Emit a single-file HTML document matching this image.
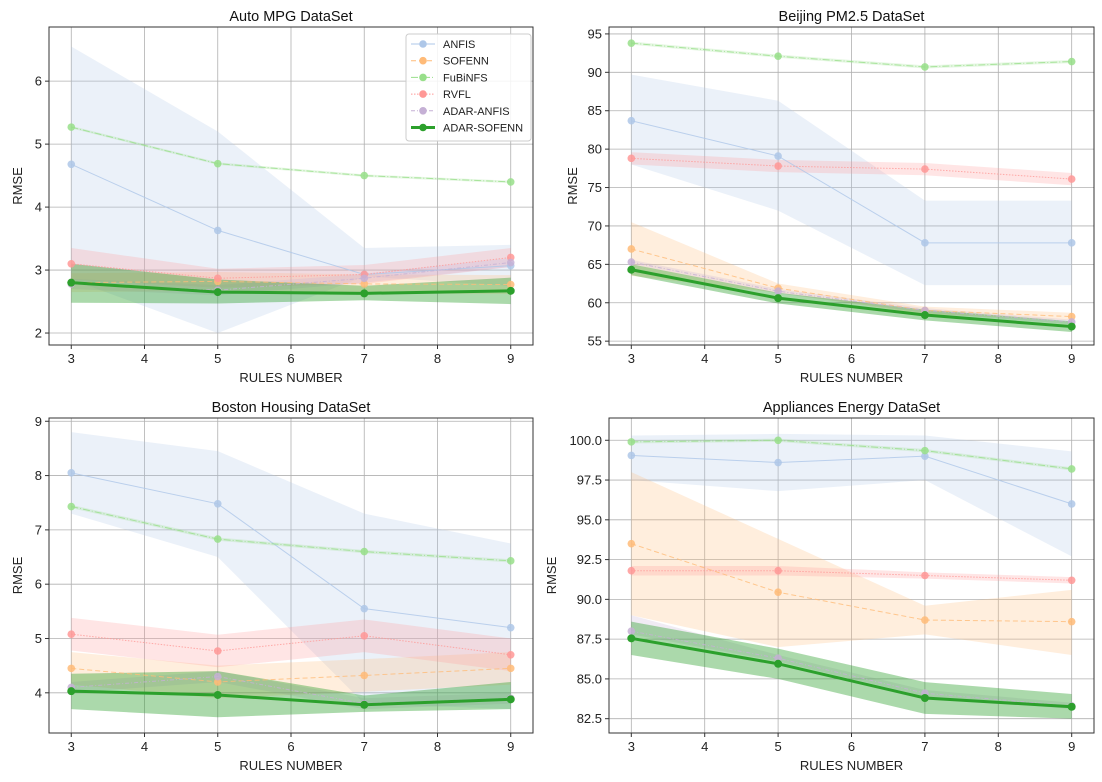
<!DOCTYPE html>
<html><head><meta charset="utf-8"><style>
body{margin:0;background:#fff;}
svg{display:block;font-family:"Liberation Sans","DejaVu Sans",sans-serif;}
</style></head><body>
<svg id="fig" width="1102" height="782" xmlns="http://www.w3.org/2000/svg"></svg>
<script>
const rules = [3,5,7,9];
const seriesNames = ["ANFIS","SOFENN","FuBiNFS","RVFL","ADAR-ANFIS","ADAR-SOFENN"];
// Auto MPG
const mpgMean = [[4.68,3.63,2.93,3.07],[2.8,2.82,2.78,2.77],[5.27,4.69,4.5,4.4],[3.1,2.87,2.93,3.2],[2.78,2.68,2.87,3.12],[2.8,2.65,2.63,2.67]];
const mpgLo = [[2.85,2.0,2.9,2.75],[2.65,2.67,2.63,2.62],[5.25,4.67,4.48,4.38],[2.85,2.72,2.78,3.05],[2.7,2.6,2.8,3.05],[2.48,2.47,2.52,2.46]];
const mpgHi = [[6.55,5.2,3.35,3.4],[2.95,2.97,2.93,2.92],[5.29,4.71,4.52,4.42],[3.35,3.02,3.08,3.35],[2.86,2.76,2.94,3.19],[3.1,2.85,2.75,2.88]];
// Beijing PM2.5
const pmMean = [[83.7,79.1,67.8,67.8],[67,61.9,59,58.2],[93.8,92.1,90.7,91.4],[78.8,77.8,77.4,76.1],[65.3,61.5,59,57.5],[64.3,60.6,58.4,56.9]];
const pmLo = [[78,72,62.3,62.3],[63.5,61.3,58.5,57.7],[93.6,91.9,90.5,91.2],[78,77,76.6,75.3],[65,61.2,58.7,57.2],[63.6,59.9,57.7,56.2]];
const pmHi = [[89.7,86.3,73.3,73.3],[70.5,62.5,59.5,58.7],[94,92.3,90.9,91.6],[79.6,78.6,78.2,76.9],[65.6,61.8,59.3,57.8],[65,61.3,59.1,57.6]];
// Boston Housing
const bhMean = [[8.05,7.48,5.55,5.2],[4.45,4.2,4.32,4.45],[7.43,6.83,6.6,6.43],[5.08,4.77,5.05,4.7],[4.1,4.3,3.8,3.9],[4.03,3.96,3.78,3.88]];
const bhLo = [[7.3,6.5,3.8,3.7],[4.15,3.9,4.02,4.15],[7.4,6.8,6.57,6.4],[4.78,4.47,4.75,4.4],[4.0,4.2,3.7,3.8],[3.7,3.55,3.65,3.7]];
const bhHi = [[8.8,8.45,7.3,6.75],[4.75,4.5,4.62,4.75],[7.46,6.86,6.63,6.46],[5.38,5.07,5.35,5.0],[4.2,4.4,3.9,4.0],[4.35,4.4,3.95,4.2]];
// Appliances Energy
const aeMean = [[99.05,98.6,99.0,96.0],[93.5,90.45,88.7,88.6],[99.9,100.0,99.35,98.2],[91.8,91.8,91.5,91.2],[88.0,86.3,84.1,83.3],[87.55,85.95,83.8,83.25]];
const aeLo = [[97.5,96.8,97.5,92.7],[89,87.0,87.8,86.5],[99.8,99.9,99.25,98.1],[91.5,91.5,91.3,91.0],[87.8,86.1,83.9,83.1],[86.5,85.0,82.8,82.5]];
const aeHi = [[100.3,100.4,100.3,99.3],[98,93.8,89.6,90.6],[100.0,100.1,99.45,98.3],[92.1,92.1,91.7,91.4],[89.0,86.5,84.3,83.5],[88.6,86.9,84.8,84.05]];
const mpgTicks=[2,3,4,5,6], pmTicks=[55,60,65,70,75,80,85,90,95], bhTicks=[4,5,6,7,8,9], aeTicks=[82.5,85,87.5,90,92.5,95,97.5,100];
const xTicks=[3,4,5,6,7,8,9];

const colors=["#aec7e8","#ffbb78","#98df8a","#ff9896","#c5b0d5","#2ca02c"];
const dashes=["","5,3","7,2,1,2","1.5,1.5","4,2,1,2",""];
const NS="http://www.w3.org/2000/svg";
const svg=document.getElementById('fig');
function mk(tag,attrs,parent){const e=document.createElementNS(NS,tag);for(const k in attrs)e.setAttribute(k,attrs[k]);(parent||svg).appendChild(e);return e;}

const panels=[
 {title:"Auto MPG DataSet",key:"mpg",L:49,R:533,T:27,B:345,ymin:1.81,ymax:6.86,mean:mpgMean,lo:mpgLo,hi:mpgHi,ticks:mpgTicks,fmt:v=>String(v),legend:true,yl:22},
 {title:"Beijing PM2.5 DataSet",key:"pm",L:609,R:1094,T:27,B:345,ymin:54.5,ymax:95.9,mean:pmMean,lo:pmLo,hi:pmHi,ticks:pmTicks,fmt:v=>String(v),yl:577},
 {title:"Boston Housing DataSet",key:"bh",L:49,R:533,T:418,B:733,ymin:3.26,ymax:9.06,mean:bhMean,lo:bhLo,hi:bhHi,ticks:bhTicks,fmt:v=>String(v),yl:22},
 {title:"Appliances Energy DataSet",key:"ae",L:609,R:1094,T:418,B:733,ymin:81.6,ymax:101.4,mean:aeMean,lo:aeLo,hi:aeHi,ticks:aeTicks,fmt:v=>v.toFixed(1),yl:556}
];

panels.forEach(p=>{
 const g=mk('g',{});
 
 
 const pad=(p.R-p.L)*0.046;
 const x0=p.L+pad, x1=p.R-pad;
 const X=v=>x0+(v-3)/6*(x1-x0);
 const Y=v=>p.B-(v-p.ymin)/(p.ymax-p.ymin)*(p.B-p.T);
 xTicks.forEach(t=>{const l=mk('line',{x1:X(t),x2:X(t),y1:p.T,y2:p.B,stroke:'#b0b0b0','stroke-width':0.8},g);
  
  mk('line',{x1:X(t),x2:X(t),y1:p.B,y2:p.B+4,stroke:'#333'},g);
  const tx=mk('text',{x:X(t),y:p.B+18,'font-size':13,'text-anchor':'middle',fill:'#222'},g);tx.textContent=t;
  });
 p.ticks.forEach(t=>{const l=mk('line',{x1:p.L,x2:p.R,y1:Y(t),y2:Y(t),stroke:'#b0b0b0','stroke-width':0.8},g);
  
  mk('line',{x1:p.L-4,x2:p.L,y1:Y(t),y2:Y(t),stroke:'#333'},g);
  const tx=mk('text',{x:p.L-7,y:Y(t)+4.5,'font-size':13,'text-anchor':'end',fill:'#222'},g);tx.textContent=p.fmt(t);
  });
 for(let s=0;s<6;s++){
  let d='';rules.forEach((r,i)=>{d+=(i?'L':'M')+X(r)+','+Y(p.hi[s][i]);});
  for(let i=3;i>=0;i--)d+='L'+X(rules[i])+','+Y(p.lo[s][i]);
  const band=mk('path',{d:d+'Z',fill:colors[s],'fill-opacity':s==5?0.4:0.25,stroke:'none'},g);
  
 }
 for(let s=0;s<6;s++){
  const pts=rules.map((r,i)=>X(r)+','+Y(p.mean[s][i])).join(' ');
  const ln=mk('polyline',{points:pts,fill:'none',stroke:colors[s],'stroke-width':s==5?3:1,'stroke-dasharray':dashes[s],opacity:s==5?1:0.8},g);
  
  rules.forEach((r,i)=>{const c=mk('circle',{cx:X(r),cy:Y(p.mean[s][i]),r:s==5?4:3.8,fill:colors[s],opacity:s==5?1:0.85},g);
   });
 }
 const fr=mk('rect',{x:p.L,y:p.T,width:p.R-p.L,height:p.B-p.T,fill:'none',stroke:'#333','stroke-width':1},g);
 
 const tt=mk('text',{x:(p.L+p.R)/2,y:p.T-6,'font-size':14.5,'text-anchor':'middle',fill:'#111'},g);tt.textContent=p.title;
 
 const xl=mk('text',{x:(p.L+p.R)/2,y:p.B+37,'font-size':13,'text-anchor':'middle',fill:'#222'},g);xl.textContent='RULES NUMBER';
 
 const yx=p.yl, ym=(p.T+p.B)/2;
 const yl=mk('text',{x:yx,y:ym,'font-size':13,'text-anchor':'middle',fill:'#222',transform:'rotate(-90 '+yx+' '+ym+')'},g);yl.textContent='RMSE';
 
 if(p.legend){
  const lg=mk('g',{},g);
  
  mk('rect',{x:406,y:34,width:125,height:107,rx:3,fill:'#fff','fill-opacity':0.85,stroke:'#ccc'},lg);
  seriesNames.forEach((n,s)=>{const yy=44+s*16.7;
   const e=mk('g',{},lg);
   
   mk('line',{x1:411,x2:435,y1:yy,y2:yy,stroke:colors[s],'stroke-width':s==5?3:1,'stroke-dasharray':dashes[s]},e);
   mk('circle',{cx:423,cy:yy,r:3.8,fill:colors[s]},e);
   const t=mk('text',{x:443,y:yy+4,'font-size':11,fill:'#222'},e);t.textContent=n;});
 }
});
</script>
</body></html>
